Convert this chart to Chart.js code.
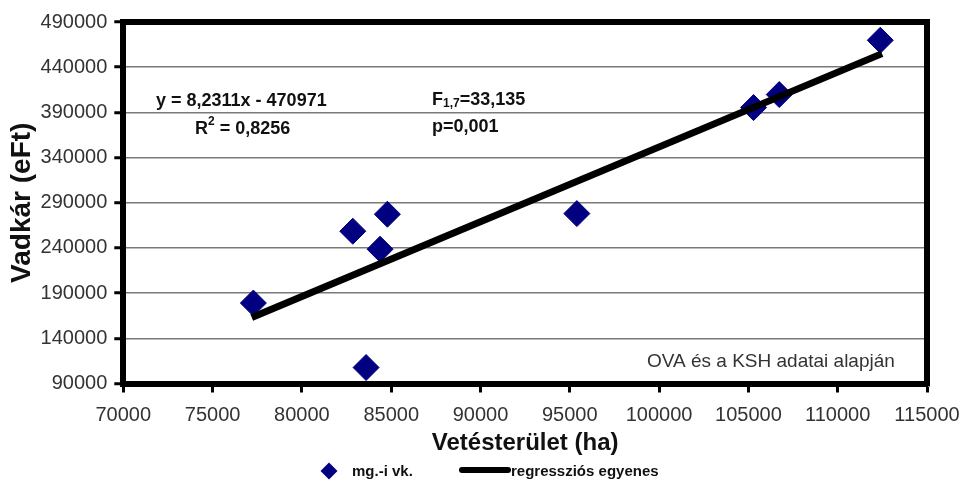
<!DOCTYPE html>
<html>
<head>
<meta charset="utf-8">
<script src="https://cdn.jsdelivr.net/npm/chart.js@4.4.0/dist/chart.umd.min.js"></script>
<style>
html,body{margin:0;padding:0;background:#fff;}
#wrap{width:965px;height:482px;position:relative;}
</style>
</head>
<body>
<div id="wrap"><canvas id="c" width="965" height="482"></canvas></div>
<script>
// ---- data ----
const seriesLabels = ['mg.-i vk.', 'regressziós egyenes'];
const areaHa   = [77282, 82849, 84787, 84378, 83594, 95396, 105288, 106728, 112385];
const damageEFt = [179000, 258500, 277300, 238600, 107700, 278000, 395300, 409700, 469800];
const lineHa   = [77192, 112480];
const lineEFt  = [163000, 455000];
const xTickValues = [70000, 75000, 80000, 85000, 90000, 95000, 100000, 105000, 110000, 115000];
const yTickValues = [90000, 140000, 190000, 240000, 290000, 340000, 390000, 440000, 490000];
const xTitle = 'Vetésterület (ha)';
const yTitle = 'Vadkár (eFt)';
const noteText = 'OVA és a KSH adatai alapján';

const FONT = '"Liberation Sans", Arial, Helvetica, sans-serif';
const NAVY = '#000080';

function fnt(size, bold){ return (bold ? 'bold ' : '') + size + 'px ' + FONT; }
function drawRuns(ctx, x, y, runs){
  let cx = x;
  runs.forEach(r => {
    ctx.font = fnt(r.size, r.bold);
    ctx.fillText(r.t, cx, y + (r.dy || 0));
    cx += ctx.measureText(r.t).width;
  });
}

const framePlugin = {
  id: 'frame',
  beforeDatasetsDraw(chart){
    const {ctx, chartArea: a} = chart;
    ctx.save();
    ctx.strokeStyle = '#000';
    ctx.lineWidth = 6;
    ctx.lineJoin = 'miter';
    ctx.beginPath();
    ctx.moveTo(a.left - 3, a.top);
    ctx.lineTo(a.right, a.top);
    ctx.lineTo(a.right, a.bottom + 3);
    ctx.stroke();
    ctx.restore();
  }
};

const textPlugin = {
  id: 'texts',
  afterDraw(chart){
    const {ctx} = chart;
    ctx.save();
    ctx.textBaseline = 'middle';
    ctx.textAlign = 'left';
    ctx.fillStyle = '#111';
    // regression annotations
    drawRuns(ctx, 156, 101, [{t:'y = 8,2311x - 470971', size:18, bold:true}]);
    drawRuns(ctx, 195, 129, [{t:'R', size:18, bold:true},{t:'2', size:12, bold:true, dy:-7},{t:' = 0,8256', size:18, bold:true}]);
    drawRuns(ctx, 432, 100, [{t:'F', size:18, bold:true},{t:'1,7', size:12, bold:true, dy:4},{t:'=33,135', size:18, bold:true}]);
    drawRuns(ctx, 432, 127, [{t:'p=0,001', size:18, bold:true}]);
    // source note
    ctx.fillStyle = '#333';
    drawRuns(ctx, 647, 362, [{t:noteText, size:19, bold:false}]);

    // legend
    const ly = 471;
    ctx.fillStyle = NAVY;
    ctx.beginPath();
    ctx.moveTo(329, ly - 8.5); ctx.lineTo(337.5, ly); ctx.lineTo(329, ly + 8.5); ctx.lineTo(320.5, ly);
    ctx.closePath(); ctx.fill();
    ctx.fillStyle = '#111';
    drawRuns(ctx, 352, ly + 1, [{t:seriesLabels[0], size:15, bold:true}]);
    ctx.strokeStyle = '#000';
    ctx.lineWidth = 6;
    ctx.lineCap = 'round';
    ctx.beginPath(); ctx.moveTo(462, ly - 1); ctx.lineTo(508, ly - 1); ctx.stroke();
    drawRuns(ctx, 511, ly + 1, [{t:seriesLabels[1], size:15, bold:true}]);
    ctx.restore();
  }
};

const scatterData = areaHa.map((x, i) => ({x, y: damageEFt[i]}));
const lineData = lineHa.map((x, i) => ({x, y: lineEFt[i]}));

new Chart(document.getElementById('c'), {
  type: 'scatter',
  data: {
    datasets: [
      {
        label: seriesLabels[1],
        type: 'line',
        data: lineData,
        borderColor: '#000',
        borderWidth: 7,
        pointRadius: 0,
        fill: false,
        order: 0
      },
      {
        label: seriesLabels[0],
        data: scatterData,
        pointStyle: 'rectRot',
        pointRadius: 13,
        backgroundColor: NAVY,
        borderColor: NAVY,
        borderWidth: 1,
        order: 1
      }
    ]
  },
  options: {
    responsive: false,
    animation: false,
    events: [],
    layout: { autoPadding: false, padding: { top: 22, right: 38, bottom: 24, left: 0 } },
    plugins: {
      legend: { display: false },
      tooltip: { enabled: false }
    },
    scales: {
      x: {
        type: 'linear',
        min: xTickValues[0],
        max: xTickValues[xTickValues.length - 1],
        afterBuildTicks: s => { s.ticks = xTickValues.map(v => ({value: v})); },
        afterFit: s => { s.height = 74.5; s.paddingRight = 0; s.paddingLeft = 0; },
        grid: { display: true, drawOnChartArea: false, drawTicks: true, tickLength: 9, tickColor: '#000', tickWidth: 3 },
        border: { display: true, width: 6, color: '#000' },
        ticks: { color: '#333', font: { family: FONT, size: 20 }, padding: 11, maxRotation: 0, autoSkip: false, callback: v => String(v) },
        title: { display: true, text: xTitle, color: '#111', font: { family: FONT, size: 24, weight: 'bold' }, padding: { top: 0, bottom: 0 } }
      },
      y: {
        type: 'linear',
        min: yTickValues[0],
        max: yTickValues[yTickValues.length - 1],
        afterBuildTicks: s => { s.ticks = yTickValues.map(v => ({value: v})); },
        afterFit: s => { s.width = 123.3; s.paddingTop = 0; s.paddingBottom = 0; },
        grid: { display: true, drawOnChartArea: true, drawTicks: true, color: '#7a7a7a', lineWidth: 1.5, tickLength: 9, tickColor: '#000', tickWidth: 3 },
        border: { display: true, width: 6, color: '#000' },
        ticks: { color: '#333', font: { family: FONT, size: 20 }, padding: 7, autoSkip: false, callback: v => String(v) },
        title: { display: true, text: yTitle, color: '#111', font: { family: FONT, size: 28, weight: 'bold' }, padding: { top: 5, bottom: 0 } }
      }
    }
  },
  plugins: [framePlugin, textPlugin]
});
</script>
</body>
</html>
